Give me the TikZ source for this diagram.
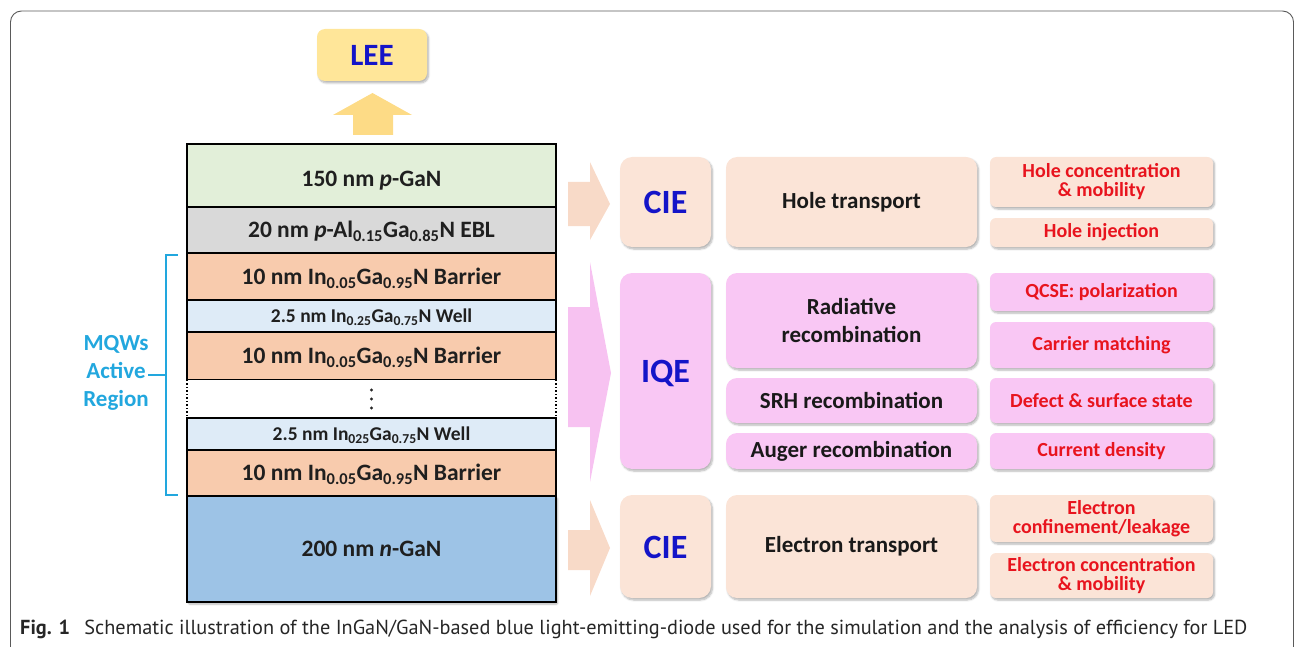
\documentclass[tikz,border=0pt]{standalone}
\usepackage{fontspec}
\setmainfont{Carlito}
\newfontfamily\capfont{PT Sans}
\usetikzlibrary{shadows.blur}

\definecolor{pgancol}{HTML}{E2EFD9}
\definecolor{eblcol}{HTML}{D9D9D9}
\definecolor{barriercol}{HTML}{F8CBAD}
\definecolor{wellcol}{HTML}{DEEBF7}
\definecolor{ngancol}{HTML}{9DC3E6}
\definecolor{leecol}{HTML}{FFE699}
\definecolor{leearrow}{HTML}{FDDB86}
\definecolor{peachbox}{HTML}{FBE4D7}
\definecolor{pinkbox}{HTML}{F9C7F4}
\definecolor{peacharrow}{HTML}{F8DAC8}
\definecolor{pinkarrow}{HTML}{F7C2F1}
\definecolor{effblue}{HTML}{1414C8}
\definecolor{causered}{HTML}{E8141E}
\definecolor{mqwcyan}{HTML}{22A7DE}
\definecolor{framegray}{HTML}{5A5A5A}

\newcommand\dn[1]{\textsubscript{#1}}
% box node given by its corners: style, name, x1, y1, x2, y2, text
\newcommand\cellnode[7]{%
  \node[#1, minimum width={(#5)-(#3)}, minimum height={(#6)-(#4)}]
    (#2) at ({((#3)+(#5))/2},{((#4)+(#6))/2}) {#7};}

\tikzset{
  softshadow/.style={blur shadow={shadow xshift=1.5pt, shadow yshift=-2pt,
      shadow blur steps=6, shadow blur extra rounding=1pt, shadow opacity=30}},
  layer/.style={draw=black, line width=1.5pt, inner sep=0pt, text=black!88,
      text height=17pt, text depth=1.4pt,
      font=\bfseries\fontsize{23.5}{26}\selectfont},
  thinlayer/.style={layer, text height=14pt, text depth=1.2pt,
      font=\bfseries\fontsize{19.5}{22}\selectfont},
  effbox/.style={rounded corners=12pt, inner sep=0pt, softshadow,
      text height=23pt, text depth=0pt,
      text=effblue, font=\bfseries\fontsize{34}{38}\selectfont},
  procbox/.style={rounded corners=11pt, inner sep=0pt, softshadow, align=center,
      text=black!90, font=\bfseries\fontsize{23}{28}\selectfont},
  causebox/.style={rounded corners=6pt, inner sep=0pt, softshadow, align=center,
      text=causered, font=\bfseries\fontsize{20}{19}\selectfont},
}

\begin{document}
\begin{tikzpicture}[x=1pt, y=-1pt]
\useasboundingbox (0,0) rectangle (1295,647);

% outer frame of the figure panel
\draw[framegray, line width=0.9pt, rounded corners=11pt]
  (10.5,660) -- (10.5,11) -- (1293.5,11) -- (1293.5,660);

% ---------------- LED layer stack ----------------
\cellnode{layer, fill=pgancol, text height=24pt}{pgan}{187}{144}{556}{207}{150 nm \textit{p}-GaN}
\cellnode{layer, fill=eblcol}{ebl}{187}{207}{556}{253}
  {20 nm \textit{p}-Al\dn{0.15}Ga\dn{0.85}N EBL}
\cellnode{layer, fill=barriercol}{b1}{187}{253}{556}{300}
  {10 nm In\dn{0.05}Ga\dn{0.95}N Barrier}
\cellnode{thinlayer, fill=wellcol}{w1}{187}{300}{556}{332}
  {2.5 nm In\dn{0.25}Ga\dn{0.75}N Well}
\cellnode{layer, fill=barriercol}{b2}{187}{332}{556}{380}
  {10 nm In\dn{0.05}Ga\dn{0.95}N Barrier}
\cellnode{inner sep=0pt, fill=white}{gap}{187}{380}{556}{418}{}
\draw[black, line width=1.5pt, dotted] (gap.north west) -- (gap.south west);
\draw[black, line width=1.5pt, dotted] (gap.north east) -- (gap.south east);
\foreach \dy in {-9,0,9}
  \fill[black!85] ([yshift=\dy pt]gap.center) circle (1.7pt);
\cellnode{thinlayer, fill=wellcol}{w2}{187}{418}{556}{450}
  {2.5 nm In\dn{025}Ga\dn{0.75}N Well}
\cellnode{layer, fill=barriercol}{b3}{187}{450}{556}{496}
  {10 nm In\dn{0.05}Ga\dn{0.95}N Barrier}
\cellnode{layer, fill=ngancol, softshadow}{ngan}{187}{496}{556}{602}
  {200 nm \textit{n}-GaN}

% ---------------- light extraction ----------------
\cellnode{rounded corners=8pt, fill=leecol, softshadow, inner sep=0pt,
      text height=21pt, text depth=0pt,
      text=effblue, font=\bfseries\fontsize{31}{34}\selectfont}{lee}{317}{29}{427}{81}{LEE}
\fill[leearrow] (353,135) -- (353,115) -- (333,115) -- (372.5,93)
  -- (412,115) -- (393,115) -- (393,135) -- cycle;

% ---------------- MQW bracket ----------------
\draw[mqwcyan, line width=1.4pt] (178,255) -- (166,255) -- (166,495) -- (178,495);
\coordinate (bracemid) at (166,375);
\node[text=mqwcyan, align=center, font=\bfseries\fontsize{23}{28}\selectfont,
      anchor=east, inner sep=0pt] (mqw) at (149,373) {MQWs\\Active\\Region};
\draw[mqwcyan, line width=1.4pt] (bracemid) -- (148,375);

% ---------------- block arrows ----------------
\fill[peacharrow] (568,182) -- (590,182) -- (590,162) -- (610,204)
  -- (590,240) -- (590,226) -- (568,226) -- cycle;
\fill[pinkarrow] (568,307) -- (590,307) -- (590,262) -- (611,373)
  -- (590,482) -- (590,427) -- (568,427) -- cycle;
\fill[peacharrow] (568,530) -- (590,530) -- (590,500) -- (610,548)
  -- (590,596) -- (590,570) -- (568,570) -- cycle;

% ---------------- carrier injection (holes) ----------------
\cellnode{effbox, fill=peachbox}{cie1}{620}{157}{711}{247}{CIE}
\cellnode{procbox, fill=peachbox}{hole}{726}{157}{977}{247}{Hole transport}
\cellnode{causebox, fill=peachbox}{hc}{990}{157}{1213}{207}{Hole concentration\\\& mobility}
\cellnode{causebox, fill=peachbox}{hi}{990}{218}{1213}{247}{Hole injection}

% ---------------- internal quantum efficiency ----------------
\cellnode{effbox, fill=pinkbox}{iqe}{620}{273}{711}{469}{IQE}
\cellnode{procbox, fill=pinkbox}{rad}{726}{273}{977}{368}{Radiative\\recombination}
\cellnode{procbox, fill=pinkbox}{srh}{726}{378}{977}{423}{SRH recombination}
\cellnode{procbox, fill=pinkbox}{aug}{726}{433}{977}{469}{Auger recombination}
\cellnode{causebox, fill=pinkbox}{qcse}{990}{273}{1213}{311}{QCSE: polarization}
\cellnode{causebox, fill=pinkbox}{cm}{990}{322}{1213}{368}{Carrier matching}
\cellnode{causebox, fill=pinkbox}{def}{990}{378}{1213}{423}{Defect \& surface state}
\cellnode{causebox, fill=pinkbox}{cd}{990}{433}{1213}{469}{Current density}

% ---------------- carrier injection (electrons) ----------------
\cellnode{effbox, fill=peachbox}{cie2}{620}{495}{711}{598}{CIE}
\cellnode{procbox, fill=peachbox}{elec}{726}{495}{977}{598}{Electron transport}
\cellnode{causebox, fill=peachbox}{ecl}{990}{495}{1213}{542}{Electron\\confinement/leakage}
\cellnode{causebox, fill=peachbox}{ecm}{990}{553}{1213}{598}{Electron concentration\\\& mobility}

% ---------------- caption ----------------
\node[anchor=base west, inner sep=0pt, text=black!85,
      font=\capfont\fontsize{20.3}{22}\selectfont] (cap) at (20,634)
  {\textbf{Fig. 1}\hspace{0.7em}Schematic illustration of the InGaN/GaN-based blue light-emitting-diode used for the simulation and the analysis of efficiency for LED};
\end{tikzpicture}
\end{document}
